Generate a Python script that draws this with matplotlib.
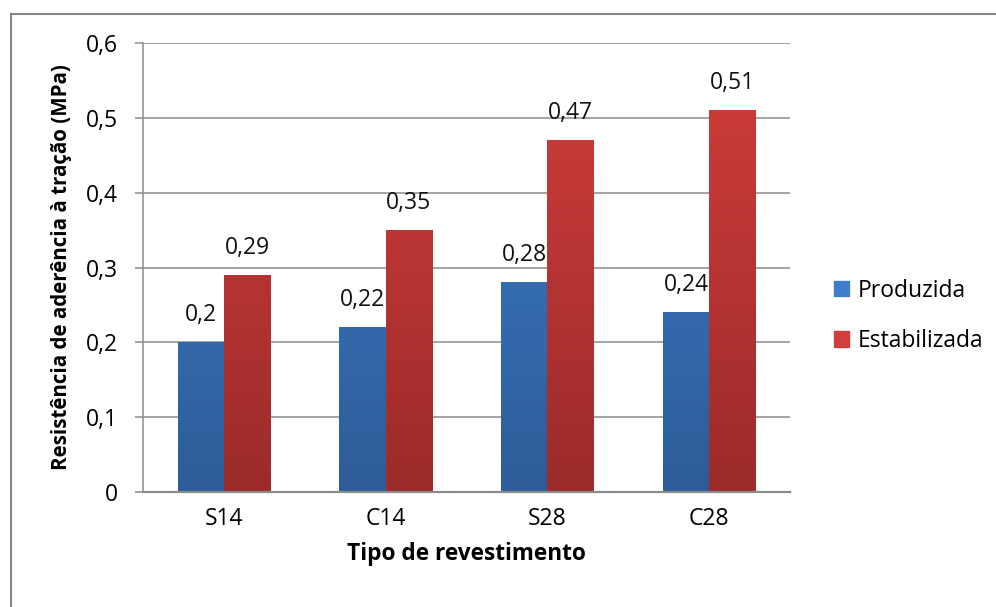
import numpy as np
import matplotlib
matplotlib.use("Agg")
import matplotlib.pyplot as plt
from matplotlib.colors import LinearSegmentedColormap
from matplotlib.lines import Line2D

plt.rcParams['font.family'] = ['Open Sans', 'DejaVu Sans']

categories = ["S14", "C14", "S28", "C28"]
produzida = [0.20, 0.22, 0.28, 0.24]
estabilizada = [0.29, 0.35, 0.47, 0.51]
series_names = ["Produzida", "Estabilizada"]
y_ticks = [0, 0.1, 0.2, 0.3, 0.4, 0.5, 0.6]

# top and bottom colours of each bar gradient
grad_blue = ("#3d7fcd", "#2d5c98")
grad_red = ("#d23e3c", "#9b2b2a")

fs = 16.5


def fmt(v):
    s = ("%.2f" % v).rstrip("0").rstrip(".")
    return s.replace(".", ",")


fig = plt.figure(figsize=(9.96, 6.07), dpi=100)
ax = fig.add_axes([143 / 996, 1 - 492 / 607, 647 / 996, 449 / 607])

x = np.arange(len(categories))
w = 1 / 3.5

grid_col = "#8c8c8c"
for t in y_ticks:
    ax.axhline(t, color=grid_col, lw=1.1, zorder=0)


def gradient_bars(xs, vals, cols):
    bars = ax.bar(xs, vals, w, color="none", edgecolor="none", zorder=2)
    cmap = LinearSegmentedColormap.from_list("g", [cols[1], cols[0]])
    grad = np.linspace(0, 1, 256).reshape(-1, 1)
    for b in bars:
        x0, y0 = b.get_x(), b.get_y()
        x1, y1 = x0 + b.get_width(), y0 + b.get_height()
        im = ax.imshow(grad, cmap=cmap, aspect="auto", origin="lower",
                       extent=[x0, x1, 0, 0.6], zorder=2)
        im.set_clip_path(b)
    return bars


b1 = gradient_bars(x - w / 2, produzida, grad_blue)
b2 = gradient_bars(x + w / 2, estabilizada, grad_red)

for bars, vals in ((b1, produzida), (b2, estabilizada)):
    for b, v in zip(bars, vals):
        ax.annotate(fmt(v), (b.get_x() + b.get_width() / 2, v),
                    xytext=(0, 27), textcoords="offset pixels",
                    ha="center", va="center", fontsize=fs, color="#111111")

ax.set_xlim(-0.5, len(categories) - 0.5)
ax.set_ylim(0, 0.6)
ax.set_yticks(y_ticks)
ax.set_yticklabels([fmt(t) if t else "0" for t in y_ticks])
ax.set_xticks(x)
ax.set_xticklabels(categories)
ax.tick_params(axis="y", length=5.8, width=1.1, color=grid_col, pad=12, labelsize=fs)
ax.tick_params(axis="x", length=0, pad=11, labelsize=fs)
for side in ("top", "right", "bottom"):
    ax.spines[side].set_visible(False)
ax.spines["left"].set_color(grid_col)
ax.spines["left"].set_linewidth(1.1)
ax.axhline(0, color=grid_col, lw=1.6, zorder=3, clip_on=False)

ax.set_xlabel("Tipo de revestimento", fontsize=16.3, fontweight="bold", labelpad=8)
ax.set_ylabel("Resistência de aderência à tração (MPa)", fontsize=14.8,
              fontweight="bold", labelpad=10)

handles = [plt.Rectangle((0, 0), 1, 1, color=grad_blue[0]),
           plt.Rectangle((0, 0), 1, 1, color=grad_red[0])]
fig.legend(handles, series_names, loc="center left",
           bbox_to_anchor=(813 / 996, 1 - 316 / 607), frameon=False,
           fontsize=fs, handlelength=0.65, handleheight=0.65,
           handletextpad=0.4, labelspacing=1.15)

# outer chart frame
fig.add_artist(Line2D([11 / 996, 11 / 996], [0, 1 - 14 / 607],
                      color="#868686", lw=1.5))
fig.add_artist(Line2D([11 / 996, 1], [1 - 14 / 607, 1 - 14 / 607],
                      color="#868686", lw=1.5))

fig.savefig("out.png", dpi=100)
